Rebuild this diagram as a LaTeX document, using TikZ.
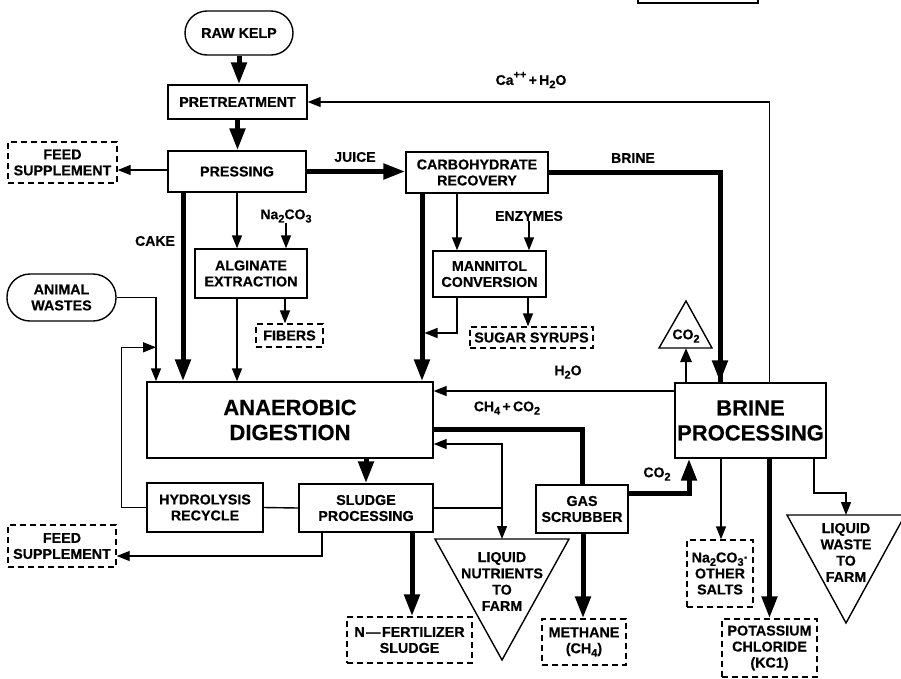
\documentclass[tikz,border=0pt]{standalone}
\usepackage{fontspec}
\setmainfont{Liberation Sans}[BoldFeatures={FakeBold=0.4}]
\usetikzlibrary{arrows.meta}
\newcommand{\sbs}[1]{\raisebox{-0.45ex}{\fontsize{11}{11}\selectfont #1}}
\newcommand{\sps}[1]{\raisebox{0.9ex}{\fontsize{11}{11}\selectfont #1}}
\begin{document}
\begin{tikzpicture}[x=1pt,y=-1pt,
  box/.style={draw,line width=1.4pt,inner sep=0pt,align=center,font=\fontsize{14.3}{16}\selectfont\bfseries},
  dbox/.style={box,dash pattern=on 6pt off 4pt},
  stad/.style={box,rounded corners=22pt},
  big/.style={font=\fontsize{22}{25}\selectfont\bfseries},
  lbl/.style={inner sep=0pt,align=center,font=\fontsize{14}{16}\selectfont\bfseries},
  tri/.style={lbl,font=\fontsize{14.3}{16.3}\selectfont\bfseries},
  thinl/.style={line width=1.4pt},
  thin/.style={thinl,-{Triangle[length=13pt,width=10pt]}},
  thickl/.style={line width=5pt},
  thick/.style={thickl,-{Triangle[length=22pt,width=15pt]}},
  med/.style={line width=2.8pt,-{Triangle[length=14pt,width=11pt]}},
]
\useasboundingbox (0,0) rectangle (901,678);

% fragment of a box at the top edge
\draw[thinl] (638,-5) -- (638,3) -- (758,3) -- (758,-5);

% nodes
\node[stad,minimum width=108pt,minimum height=44pt] (raw) at (239,33) {RAW KELP};
\node[box,minimum width=139pt,minimum height=34pt] (pre) at (237.5,102) {PRETREATMENT};
\node[box,minimum width=138pt,minimum height=41pt] (press) at (237,171.5) {PRESSING};
\node[dbox,minimum width=109pt,minimum height=41pt] (feed1) at (62.5,162.5) {FEED\\SUPPLEMENT};
\node[box,minimum width=142pt,minimum height=41pt] (carb) at (477,172.5) {CARBOHYDRATE\\RECOVERY};
\node[box,minimum width=112pt,minimum height=49pt] (alg) at (251,273.5) {ALGINATE\\EXTRACTION};
\node[dbox,minimum width=67pt,minimum height=23pt] (fib) at (289.5,335.5) {FIBERS};
\node[stad,rounded corners=23pt,minimum width=109pt,minimum height=47pt] (animal) at (61.5,297.5) {ANIMAL\\WASTES};
\node[box,minimum width=113pt,minimum height=46pt] (mann) at (489.5,274) {MANNITOL\\CONVERSION};
\node[dbox,minimum width=123pt,minimum height=21pt] (syr) at (531.5,337.5) {SUGAR SYRUPS};
\node[box,big,minimum width=286pt,minimum height=76pt] (ana) at (290,420) {ANAEROBIC\\DIGESTION};
\node[box,big,minimum width=151pt,minimum height=75pt] (brine) at (750.5,420.5) {BRINE\\PROCESSING};
\node[box,minimum width=116pt,minimum height=49pt] (hyd) at (205,507.5) {HYDROLYSIS\\RECYCLE};
\node[box,minimum width=134pt,minimum height=48pt] (sludge) at (366,508) {SLUDGE\\PROCESSING};
\node[dbox,minimum width=108pt,minimum height=42pt] (feed2) at (62,546) {FEED\\SUPPLEMENT};
\node[dbox,minimum width=125pt,minimum height=46pt] (nfert) at (409.5,640) {N\kern1.5pt—\kern1.5pt FERTILIZER\\SLUDGE};
\node[box,minimum width=92pt,minimum height=48pt] (gas) at (582,509) {GAS\\SCRUBBER};
\node[dbox,minimum width=84pt,minimum height=46pt] (meth) at (584,642) {METHANE\\(CH\sbs{4})};
\node[dbox,minimum width=66pt,minimum height=67pt] (salts) at (720,573.5) {Na\sbs{2}CO\sbs{3}·\\OTHER\\SALTS};
\node[dbox,minimum width=95pt,minimum height=58pt] (kcl) at (769.5,648) {POTASSIUM\\CHLORIDE\\(KC1)};

% triangles
\draw[thinl] (659,348) -- (686,301) -- (712,348) -- cycle;
\node[lbl] (co2t) at (686,336) {CO\sbs{2}};
\coordinate (co2b) at (686,348);
\draw[thinl] (435,539) -- (569,539) -- (502,660) -- cycle;
\node[tri] (liqN) at (502,581.5) {LIQUID\\NUTRIENTS\\TO\\FARM};
\coordinate (liqNtop) at (502,539);
\draw[thinl] (787,515) -- (905,515) -- (846,623) -- cycle;
\node[tri] (liqW) at (846,552.5) {LIQUID\\WASTE\\TO\\FARM};
\coordinate (liqWtop) at (846,515);

% labels
\node[lbl] (juice) at (355,157) {JUICE};
\node[lbl] (brinel) at (633,158) {BRINE};
\node[lbl] (ca) at (531,80) {Ca\sps{++}\,+\,H\sbs{2}O};
\node[lbl] (cake) at (155,241) {CAKE};
\node[lbl] (na) at (286,216) {Na\sbs{2}CO\sbs{3}};
\node[lbl] (enz) at (529,216) {ENZYMES};
\node[lbl] (h2o) at (568,372) {H\sbs{2}O};
\node[lbl] (ch4) at (507,408) {CH\sbs{4}\,+\,CO\sbs{2}};
\node[lbl] (co2l) at (657,474) {CO\sbs{2}};

% connectors
\draw[thick] (raw.south) -- (raw.south |- pre.north);
\draw[thick] (pre.south) -- (pre.south |- press.north);
\draw[thin] ([yshift=1.5pt]press.west) -- ([yshift=1.5pt]press.west -| feed1.east);
\draw[thick] (press.east) -- (press.east -| carb.west);
\draw[thickl] (carb.east) -| ([xshift=-30.5pt]brine.north);
\draw[thick] ([xshift=-30.5pt,yshift=60pt]brine.north) -- ([xshift=-30.5pt]brine.north);
\draw[thin] ([xshift=19pt]brine.north) |- (pre.east);

\draw[thick] ([xshift=-54pt]press.south) -- ([xshift=-54pt]press.south |- ana.north);
\draw[thin] (press.south) -- (press.south |- alg.north);
\draw[thin] (na.south) -- (na.south |- alg.north);
\draw[thin] ([xshift=-14pt]alg.south) -- ([xshift=-14pt]alg.south |- ana.north);
\draw[thin] ([xshift=34pt]alg.south) -- ([xshift=34pt]alg.south |- fib.north);
\draw[thin] (animal.east) -| ([xshift=-134pt]ana.north);
\draw[thin] (hyd.west) -- ++(-25,0) |- ([xshift=-134pt,yshift=34pt]ana.north);

\draw[thick] ([xshift=-55pt]carb.south) -- ([xshift=-55pt]carb.south |- ana.north);
\draw[thin] ([xshift=-20pt]carb.south) -- ([xshift=-20pt]carb.south |- mann.north);
\draw[thin] (enz.south) -- (enz.south |- mann.north);
\coordinate (j1) at (424.5,333);
\draw[thin] ([xshift=-32.5pt]mann.south) |- (j1);
\draw[thin] ([xshift=38.5pt]mann.south) -- ([xshift=38.5pt]mann.south |- syr.north);

\draw[med] ([xshift=-64.5pt]brine.north) -- (co2b);
\draw[thin] ([yshift=29.5pt]brine.west) -- ([yshift=29.5pt]brine.west -| ana.east);
\draw[thickl] ([yshift=-9pt]ana.east) -| (gas.north);
\draw[thick] (ana.south -| sludge.north) -- (sludge.north);
\draw[thinl] (hyd.east) -- (sludge.west);
\coordinate (t1) at (502,508);
\draw[thinl] (sludge.east) -- (t1);
\draw[thin] (t1) |- ([yshift=-24pt]ana.east);
\draw[thin] (t1) -- (liqNtop);
\draw[thin] ([xshift=-44pt]sludge.south) |- ([yshift=-10pt]feed2.east);
\draw[thick] ([xshift=46pt]sludge.south) -- ([xshift=46pt]sludge.south |- nfert.north);
\draw[thick] ([xshift=1pt]gas.south) -- ([xshift=1pt]gas.south |- meth.north);
\draw[thick] ([yshift=16pt]gas.east) -| ([xshift=-61.5pt]brine.south);
\draw[thin] ([xshift=-29.5pt]brine.south) -- ([xshift=-29.5pt]brine.south |- salts.north);
\draw[thick] ([xshift=19pt]brine.south) -- ([xshift=19pt]brine.south |- kcl.north);
\draw[thin] ([xshift=63.5pt]brine.south) |- ([yshift=22pt]liqWtop) -- (liqWtop);
\end{tikzpicture}
\end{document}
